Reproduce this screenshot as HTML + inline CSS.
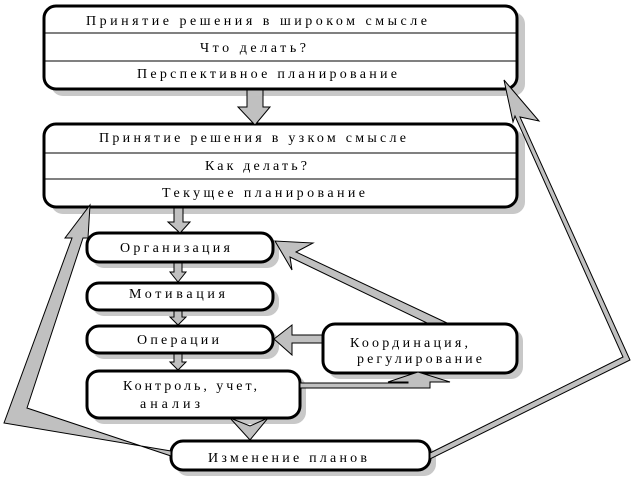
<!DOCTYPE html>
<html><head><meta charset="utf-8"><style>
html,body{margin:0;padding:0;background:#fff;width:633px;height:477px;overflow:hidden}
svg text{font-family:"Liberation Serif",serif;font-size:14px;fill:#000}
</style></head><body>
<svg width="633" height="477" viewBox="0 0 633 477" xmlns="http://www.w3.org/2000/svg">
<g fill="#c8c8c8" stroke="none">
<rect x="51" y="12" width="474" height="84" rx="12"/>
<rect x="51" y="130" width="474" height="84" rx="12"/>
<rect x="92" y="238" width="187" height="30" rx="12"/>
<rect x="92" y="288" width="187" height="28" rx="12"/>
<rect x="92" y="331" width="187" height="28" rx="12"/>
<rect x="92" y="376" width="214" height="48" rx="12"/>
<rect x="328" y="329" width="195" height="50" rx="12"/>
<rect x="176" y="446" width="260" height="30" rx="12"/>
</g>
<g fill="#fff" stroke="#000" stroke-width="3">
<rect x="44" y="6" width="473" height="83" rx="12"/>
<rect x="44" y="124" width="473" height="83" rx="12"/>
<rect x="87" y="233" width="186" height="29" rx="12"/>
<rect x="87" y="283" width="186" height="27" rx="12"/>
<rect x="87" y="326" width="186" height="27" rx="12"/>
<rect x="87" y="371" width="213" height="47" rx="12"/>
<rect x="323" y="324" width="194" height="49" rx="12"/>
<rect x="171" y="441" width="259" height="29" rx="12"/>
</g>
<g stroke="#000" stroke-width="1">
<line x1="45" y1="33" x2="516" y2="33"/><line x1="45" y1="61" x2="516" y2="61"/>
<line x1="45" y1="153" x2="516" y2="153"/><line x1="45" y1="179" x2="516" y2="179"/>
</g>
<g fill="#c0c0c0" stroke="#000" stroke-width="1">
<polygon points="247,90 263,90 263,107 270,107 255,125 238,107 247,107"/>
<polygon points="174,208 183,208 183,222 190,222 180,233 168,222 174,222"/>
<polygon points="174,263 182,263 182,272 186,272 178,282 170,272 174,272"/>
<polygon points="174,311 182,311 182,317 186,317 178,325 170,317 174,317"/>
<polygon points="174,354 182,354 182,362 186,362 178,370 170,362 174,362"/>
<polygon points="322,335 292,335 292,325 274,339 292,355 292,343 322,343"/>
<polygon points="300,383 408,383 408,382 388,382 418,372 450,382 430,382 430,388 300,388"/>
<polygon points="230,418 250,426 268,418 250,440"/>
<polygon points="447,323 427,323 290,257 292,270 275,241 313,243 296,252"/>
<polygon points="171,451 4,423 72,238 65,238 90,205 88,238 83,238 27,408 171,456"/>
<polygon points="430,453 623,357 515,116 513,122 504,80 539,121 520,117 630,360 430,459"/>
</g>
<g>
<text x="86" y="25" textLength="341" lengthAdjust="spacing">Принятие решения  в широком  смысле</text>
<text x="200" y="52" textLength="106" lengthAdjust="spacing">Что  делать?</text>
<text x="137" y="78" textLength="260" lengthAdjust="spacing">Перспективное  планирование</text>
<text x="99" y="142" textLength="307" lengthAdjust="spacing">Принятие решения в  узком смысле</text>
<text x="205" y="170" textLength="102" lengthAdjust="spacing">Как  делать?</text>
<text x="162" y="197" textLength="203" lengthAdjust="spacing">Текущее  планирование</text>
<text x="120" y="252" textLength="110" lengthAdjust="spacing">Организация</text>
<text x="129" y="298" textLength="96" lengthAdjust="spacing">Мотивация</text>
<text x="137" y="344" textLength="82" lengthAdjust="spacing">Операции</text>
<text x="123" y="390" textLength="134" lengthAdjust="spacing">Контроль, учет,</text>
<text x="140" y="408" textLength="60" lengthAdjust="spacing">анализ</text>
<text x="350" y="347" textLength="118" lengthAdjust="spacing">Координация,</text>
<text x="357" y="363" textLength="125" lengthAdjust="spacing">регулирование</text>
<text x="208" y="462" textLength="159" lengthAdjust="spacing">Изменение планов</text>
</g>
</svg>
</body></html>
